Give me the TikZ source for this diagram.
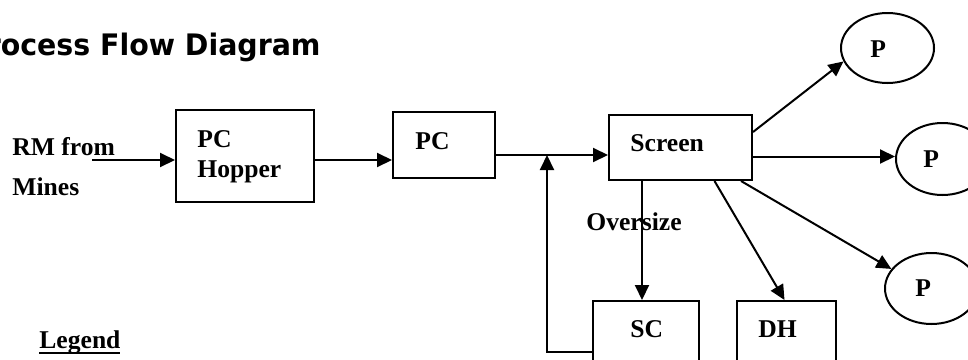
\documentclass[tikz,border=0pt]{standalone}
\usepackage{fontspec}
\setmainfont{Liberation Serif}
\newfontfamily\headfont[FakeStretch=0.96]{DejaVu Sans}
\usetikzlibrary{arrows.meta,shapes.geometric}

\newcommand\ulword[1]{\setbox0\hbox{#1}\rlap{\rule[-3pt]{\wd0}{1pt}}#1}

\tikzset{
  box/.style={draw, line width=1pt, rectangle, inner sep=0pt},
  prod/.style={draw, line width=1pt, ellipse, inner sep=0pt,
    minimum width=46.5pt},
  txt/.style={anchor=base west, inner sep=0pt,
    font=\fontsize{12.8pt}{15pt}\selectfont\bfseries},
  flow/.style={line width=1pt, -{Triangle[length=7.5pt,width=7pt]}}
}

\begin{document}
\begin{tikzpicture}[x=0.5pt,y=-0.5pt]
\useasboundingbox (0,0) rectangle (968,359);
\clip (0,0) rectangle (968,359);

\node[anchor=base east, inner sep=0pt,
  font=\headfont\fontsize{14.8pt}{17pt}\selectfont\bfseries] (title) at (321,55)
  {Process Flow Diagram};

% boxes
\node[box, minimum width=69pt, minimum height=46pt] (hop) at (245,156) {};
\node[box, minimum width=51pt, minimum height=33pt] (pc) at (444,145) {};
\node[box, minimum width=71.5pt, minimum height=32.5pt] (scr) at (680.5,147.5) {};
\node[box, minimum width=53pt, minimum height=39.5pt] (sc) at (646,340.5) {};
\node[box, minimum width=49.5pt, minimum height=39.5pt] (dh) at (786.5,340.5) {};

% products
\node[prod, minimum height=35pt] (p1) at (887.5,48) {};
\node[prod, minimum height=36pt] (p2) at (942.5,159) {};
\node[prod, minimum height=35.5pt] (p3) at (931.5,288.5) {};

% texts
\node[txt] (rm1) at (12,155) {RM from};
\node[txt] (rm2) at (12,195) {Mines};
\node[txt] (hop1) at (197,147) {PC};
\node[txt] (hop2) at (197,177) {Hopper};
\node[txt] (pct) at (415,149) {PC};
\node[txt] (scrt) at (630,151) {Screen};
\node[txt] (over) at (586,230) {Oversize};
\node[txt] (sct) at (630,337) {SC};
\node[txt] (dht) at (758,337) {DH};
\node[txt] (p1t) at (870,57) {P};
\node[txt] (p2t) at (923,167) {P};
\node[txt] (p3t) at (915,296) {P};
\node[txt] (leg) at (39,348) {\ulword{Legend}};

\coordinate (rmin) at (92,160);
\coordinate (jn) at (547,155);
\coordinate (fb) at (547,352);

\draw[flow] (rmin) -- (rmin -| hop.west);
\draw[flow] ([yshift=-2pt]hop.east) -- ([yshift=-7.5pt]pc.west);
\draw[flow] (pc.east |- jn) -- (jn -| scr.west);
\draw[flow] (fb -| sc.west) -- (fb) -- (jn);
\draw[flow] ([xshift=-2pt]sc.north |- scr.south) -- ([xshift=-2pt]sc.north);
\draw[flow] ([xshift=17pt]scr.south) -- ([xshift=-1pt]dh.north);
\draw[flow] ([xshift=-6pt]scr.south east) -- (p3.154);
\draw[flow] ([yshift=-4.5pt]scr.east) -- ([yshift=-4.5pt]scr.east -| p2.west);
\draw[flow] ([yshift=7.75pt]scr.east) -- (p1.197);
\end{tikzpicture}
\end{document}
